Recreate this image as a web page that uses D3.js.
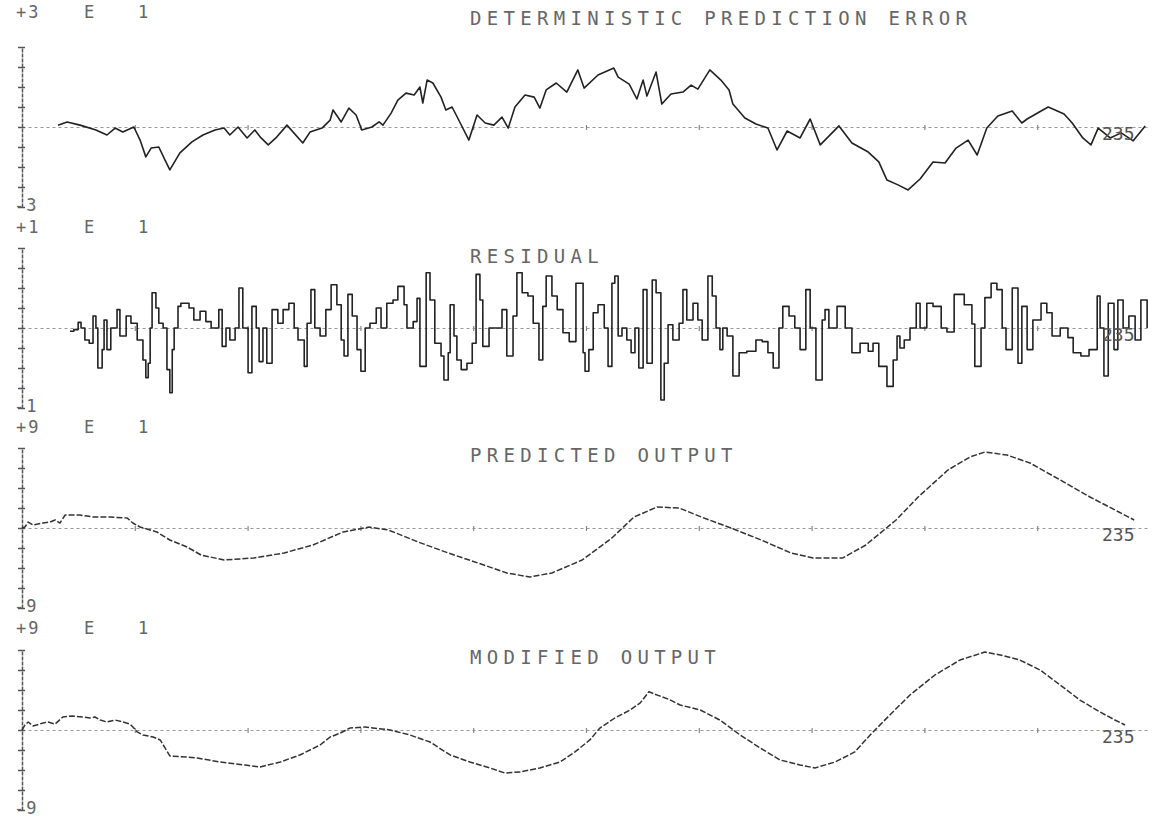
<!DOCTYPE html>
<html><head><meta charset="utf-8">
<script src="https://cdn.jsdelivr.net/npm/d3@7"></script>
<style>
html,body{margin:0;padding:0;background:#fff;}
svg{display:block;}
text{font-family:"DejaVu Sans Mono",monospace;}
</style></head>
<body>
<svg id="chart" width="1162" height="822"></svg>
<script>
// ---------- data ----------
const panelTitles = ["DETERMINISTIC PREDICTION ERROR","RESIDUAL","PREDICTED OUTPUT","MODIFIED OUTPUT"];
const panelMax = [3, 1, 9, 9];          // scale labels "+3 E 1", "+1 E 1", "+9 E 1", "+9 E 1"
const panelExp = ["E","E","E","E"];
const panelExpVal = ["1","1","1","1"];
const endLabel = "235";
const xTicks = [23.5,47,70.5,94,117.5,141,164.5,188,211.5];

// Deterministic prediction error (x10)
const errT = [7.5,9.4,12.1,15.4,17.7,19.4,21.0,23.3,24.6,25.8,26.9,28.5,29.8,30.8,32.9,35.4,37.7,40.2,42.1,43.3,45.0,46.9,48.5,49.8,51.3,52.9,55.2,58.5,60.0,62.5,64.2,64.8,66.5,68.1,69.6,70.8,72.9,74.4,75.2,76.9,78.3,80.0,81.7,82.9,83.5,84.4,85.6,87.3,88.3,89.6,91.3,93.1,94.8,96.5,98.3,100.0,101.3,102.7,104.8,106.7,107.9,109.2,111.3,113.5,115.8,117.1,120.0,123.3,124.2,126.5,128.1,129.4,130.2,132.1,133.3,135.2,137.7,139.4,140.8,143.3,145.6,147.3,148.1,150.6,152.9,155.4,157.3,159.4,162.1,164.2,166.3,168.1,170.2,172.9,176.3,178.5,180.2,182.5,184.6,187.1,189.8,192.3,194.6,197.1,199.0,201.0,203.3,206.3,208.3,209.4,212.3,213.8,217.1,218.8,221.0,222.7,224.2,226.7,229.0,231.5,234.0];
const errV = [0.07,0.19,0.07,-0.11,-0.30,-0.04,-0.19,0,-0.49,-1.12,-0.79,-0.75,-1.24,-1.61,-0.97,-0.56,-0.30,-0.11,-0.04,-0.30,0,-0.41,-0.11,-0.41,-0.67,-0.41,0.07,-0.60,-0.19,-0.04,0.26,0.64,0.19,0.71,0.45,-0.11,0,0.19,0.07,0.52,1.01,1.27,1.20,1.50,0.90,1.76,1.65,1.12,0.64,0.75,0.15,-0.49,0.45,0.15,0.07,0.37,-0.04,0.75,1.20,1.12,0.71,1.39,1.65,1.31,2.14,1.46,1.95,2.21,1.87,1.61,1.05,1.76,1.16,2.06,0.86,1.24,1.31,1.57,1.42,2.14,1.76,1.39,0.86,0.34,0.11,-0.04,-0.86,-0.15,-0.41,0.30,-0.67,-0.34,0.04,-0.60,-0.94,-1.31,-1.99,-2.17,-2.36,-1.95,-1.31,-1.35,-0.79,-0.49,-1.05,-0.04,0.41,0.60,0.15,0.30,0.60,0.75,0.49,0.15,-0.41,-0.67,-0.04,-0.41,-0.22,-0.52,0.04];

// Residual (x10)
const resT = [10.0,10.8,11.7,12.3,13.1,14.0,14.8,15.4,15.8,16.7,
17.1,17.7,18.5,19.8,20.4,21.7,22.7,24.0,25.2,25.8,
26.3,26.7,27.1,27.9,28.5,29.4,30.2,30.8,31.3,31.7,
32.5,33.1,34.8,35.8,37.1,38.3,39.4,41.0,41.7,42.5,
43.3,44.4,45.2,46.0,47.1,47.9,48.8,49.4,50.2,51.0,
52.1,53.3,54.4,55.6,56.7,57.5,58.8,59.4,60.2,61.0,
62.1,63.3,64.4,65.6,66.5,67.1,67.9,68.8,69.8,70.6,
71.5,72.5,73.8,74.8,76.0,77.3,78.3,79.6,80.2,81.5,
82.3,82.9,84.2,85.0,86.0,87.3,87.9,88.8,89.2,90.0,
90.6,91.5,92.7,93.8,94.6,95.4,96.0,97.3,98.8,100.0,
101.0,102.3,103.1,104.2,105.4,106.5,107.7,108.5,109.2,110.4,
111.5,112.7,114.0,115.4,116.9,117.3,118.1,119.0,120.0,121.3,
122.1,122.9,123.5,124.2,125.0,126.0,126.9,127.7,128.5,129.4,
130.2,131.3,132.1,133.1,133.8,134.6,135.6,136.9,137.7,138.5,
139.8,140.8,141.7,142.9,143.8,144.6,145.4,146.0,146.9,148.1,
149.4,151.0,152.9,154.2,155.4,156.5,157.7,158.5,159.8,161.0,
162.1,163.3,164.2,165.4,166.7,167.3,168.1,169.8,171.5,172.9,
174.6,176.3,177.3,178.5,180.2,181.5,182.3,182.9,183.8,185.0,
186.3,187.1,188.5,189.8,191.5,192.7,194.2,196.3,197.9,198.5,
199.8,200.6,201.9,203.1,204.2,205.0,206.3,207.5,208.3,209.4,
210.6,212.3,213.5,214.6,216.3,217.9,219.0,220.6,222.3,224.0,
224.6,225.4,226.3,227.5,228.3,229.4,230.6,231.9,233.1,234.4];
const resV = [-0.04,-0.02,0.07,0,-0.15,-0.19,0.15,0,-0.50,-0.27,
0.10,-0.27,0,0.23,-0.10,0.15,0.06,-0.15,-0.40,-0.62,
-0.44,0,0.44,0.25,0.06,0,-0.52,-0.81,-0.27,0,
0.27,0.31,0.25,0.10,0.21,0.08,0,0.23,-0.23,0,
-0.15,0,0.50,0,-0.56,0.27,0,-0.42,0,-0.44,
0.23,0.06,0.23,0.31,0,-0.15,-0.48,0.06,0.48,0,
-0.10,0.23,0.54,0.29,-0.15,-0.35,0.42,0.15,-0.27,-0.54,
0,0.06,0.25,0,0.31,0.35,0.52,0.29,0,0.08,
0.37,-0.48,0.69,0.35,-0.19,-0.35,-0.65,-0.31,0.29,-0.10,
-0.40,-0.52,-0.44,-0.19,0.67,0.35,-0.23,0,0,0.23,
-0.35,0.15,0.69,0.44,0.40,0.06,-0.40,0.27,0.65,0.40,
0.23,-0.06,-0.17,0.56,-0.31,-0.54,-0.27,0.19,0.29,0,
-0.48,0.56,0.65,-0.10,0,-0.15,-0.31,0,-0.50,0.48,
-0.44,0.60,0.44,-0.90,-0.44,0.04,-0.15,0.06,0.48,0.10,
0.31,0.10,-0.15,0.65,0.40,0,-0.27,0,-0.10,-0.60,
-0.31,-0.29,-0.15,-0.17,-0.31,-0.50,0,0.27,0.15,0,
-0.27,0.48,0,-0.65,0.10,0.23,0,0.27,0,-0.31,
-0.19,-0.29,-0.19,-0.48,-0.73,-0.40,-0.10,-0.25,-0.15,0,
0.31,0,0.31,0.27,0,-0.05,0.42,0.29,0.05,-0.48,
0,0.38,0.56,0.48,0,-0.27,0.50,-0.44,0.27,-0.27,
0.10,0.31,0.19,-0.10,0,-0.12,-0.31,-0.35,-0.27,0.40,
0,-0.60,0.31,-0.27,0.35,0,0.15,-0.15,0.35,0];

// Predicted output (x10)
const predT = [0,0.6,1.3,2.3,4.4,5.8,6.9,7.9,9.0,12.1,14.8,18.3,21.9,23.1,24.6,28.1,30.8,34.4,37.3,42.1,48.3,54.6,60.6,66.9,72.3,76.3,82.5,88.8,95.0,101.0,105.8,110.4,116.7,122.9,127.5,132.3,136.9,141.5,147.7,154.0,160.2,164.8,171.0,175.8,182.1,186.7,192.9,197.5,200.6,205.2,210.0,216.3,222.5,228.5,231.7];
const predV = [0,0.11,0.67,0.34,0.56,0.67,0.90,0.56,1.46,1.46,1.24,1.24,1.12,0.56,0.11,-0.45,-1.35,-2.14,-3.04,-3.60,-3.37,-2.81,-1.91,-0.45,0.11,-0.22,-1.57,-2.81,-3.94,-5.06,-5.51,-5.06,-3.60,-1.12,1.24,2.36,2.25,1.24,0,-1.35,-2.81,-3.37,-3.37,-1.91,0.90,3.49,6.52,7.99,8.55,8.21,7.31,5.40,3.49,1.80,0.90];

// Modified output (x10)
const modT = [0,0.6,1.3,2.3,4.4,5.4,6.9,8.5,10.4,12.7,14.2,15.2,16.3,17.7,19.4,21.0,22.5,23.1,24.0,25.2,27.3,28.8,29.8,30.8,34.4,36.5,41.3,46.5,49.6,53.8,57.9,62.1,64.2,66.3,68.3,71.5,76.7,80.8,85.0,89.2,93.3,97.5,100.6,103.8,107.9,112.1,115.2,118.3,120.4,123.5,126.7,128.8,130.6,132.5,135.0,137.1,141.3,145.4,149.6,153.8,157.9,162.1,165.2,169.4,173.5,176.7,180.8,185.0,190.2,195.4,200.6,203.8,207.9,212.1,216.3,220.4,224.6,227.7,229.8];
const modV = [0,0.56,0.90,0.45,0.79,0.90,0.67,1.46,1.57,1.46,1.35,1.46,1.12,0.90,1.12,0.90,0.67,0.34,-0.22,-0.56,-0.79,-1.12,-2.02,-2.92,-3.04,-3.15,-3.60,-3.94,-4.16,-3.60,-2.81,-1.69,-0.79,-0.34,0.22,0.34,0,-0.56,-1.35,-2.81,-3.60,-4.27,-4.84,-4.72,-4.27,-3.60,-2.47,-1.12,0.22,1.35,2.25,3.05,4.30,3.90,3.40,2.81,2.25,1.12,-0.56,-2.02,-3.37,-3.94,-4.27,-3.60,-2.47,-0.56,1.69,3.94,6.19,7.87,8.77,8.44,7.87,6.75,5.06,3.37,2.02,1.12,0.56];

// ---------- layout ----------
const zeroY = [127, 328, 528, 730];
const halfH = 80;
const topLabelY = [18, 233, 433, 634];
const titlePos = [[470, 25], [470, 263], [470, 462], [470, 664]];
const seriesT = [errT, resT, predT, modT];
const seriesV = [errV, resV, predV, modV];
const curves = [d3.curveLinear, d3.curveStepAfter, d3.curveLinear, d3.curveLinear];
const dashes = [null, null, "6,2", "6,2"];

const svg = d3.select("#chart");
const x = d3.scaleLinear().domain([0, 235]).range([22, 1150]);

panelTitles.forEach((title, p) => {
  const max = panelMax[p];
  const z = zeroY[p];
  const y = d3.scaleLinear().domain([-max, max]).range([z + halfH, z - halfH]);
  const g = svg.append("g");

  // zero line with x ticks
  const xa = d3.axisBottom(x).tickValues(xTicks).tickSize(5).tickSizeOuter(0).tickFormat("");
  const xg = g.append("g").attr("transform", `translate(0,${z - 2})`).call(xa);
  xg.select(".domain").attr("stroke", "#9a9a9a").attr("stroke-width", 1.2)
    .attr("stroke-dasharray", "3,3").attr("transform", "translate(0,2)");
  xg.selectAll(".tick line").attr("stroke", "#888").attr("stroke-width", 1.2);

  // y axis with crossing ticks
  const yt = d3.range(-4, 5).map(k => k * max / 4);
  const ya = d3.axisLeft(y).tickValues(yt).tickSize(4).tickSizeOuter(0).tickFormat("");
  const yg = g.append("g").attr("transform", `translate(22,0)`).call(ya);
  yg.select(".domain").attr("stroke", "#555").attr("stroke-width", 1.5).attr("stroke-dasharray", "4,1");
  yg.selectAll(".tick line").attr("stroke", "#555").attr("stroke-width", 1.5);
  const ya2 = d3.axisRight(y).tickValues(yt).tickSize(3).tickSizeOuter(0).tickFormat("");
  const yg2 = g.append("g").attr("transform", `translate(22,0)`).call(ya2);
  yg2.select(".domain").remove();
  yg2.selectAll(".tick line").attr("stroke", "#555").attr("stroke-width", 1.5);

  // scale labels
  const ly = topLabelY[p];
  const fs = 17;
  g.append("text").attr("x", 16).attr("y", ly).attr("font-size", fs).attr("letter-spacing", 2).attr("fill", "#666").text("+" + max);
  g.append("text").attr("x", 84).attr("y", ly).attr("font-size", fs).attr("fill", "#666").text(panelExp[p]);
  g.append("text").attr("x", 138).attr("y", ly).attr("font-size", fs).attr("fill", "#666").text(panelExpVal[p]);
  g.append("text").attr("x", 14).attr("y", z + halfH + 4).attr("font-size", fs).attr("letter-spacing", 2).attr("fill", "#666").text("-" + max);

  // title
  g.append("text").attr("x", titlePos[p][0]).attr("y", titlePos[p][1])
    .attr("font-size", 19).attr("letter-spacing", 5.3).attr("fill", "#666").text(title);

  // series
  const T = seriesT[p], V = seriesV[p];
  const pts = T.map((t, i) => [t, V[i]]);
  const line = d3.line().x(d => x(d[0])).y(d => y(d[1])).curve(curves[p]);
  const path = g.append("path").datum(pts).attr("d", line).attr("fill", "none")
    .attr("stroke", p < 2 ? "#222" : "#333").attr("stroke-width", p < 2 ? 1.6 : 1.5)
    .attr("stroke-linejoin", "round");
  if (dashes[p]) path.attr("stroke-dasharray", dashes[p]);

  // end label
  g.append("text").attr("x", 1102).attr("y", z + 13).attr("font-size", 18)
    .attr("fill", "#555").text(endLabel);
});
</script>
</body></html>
